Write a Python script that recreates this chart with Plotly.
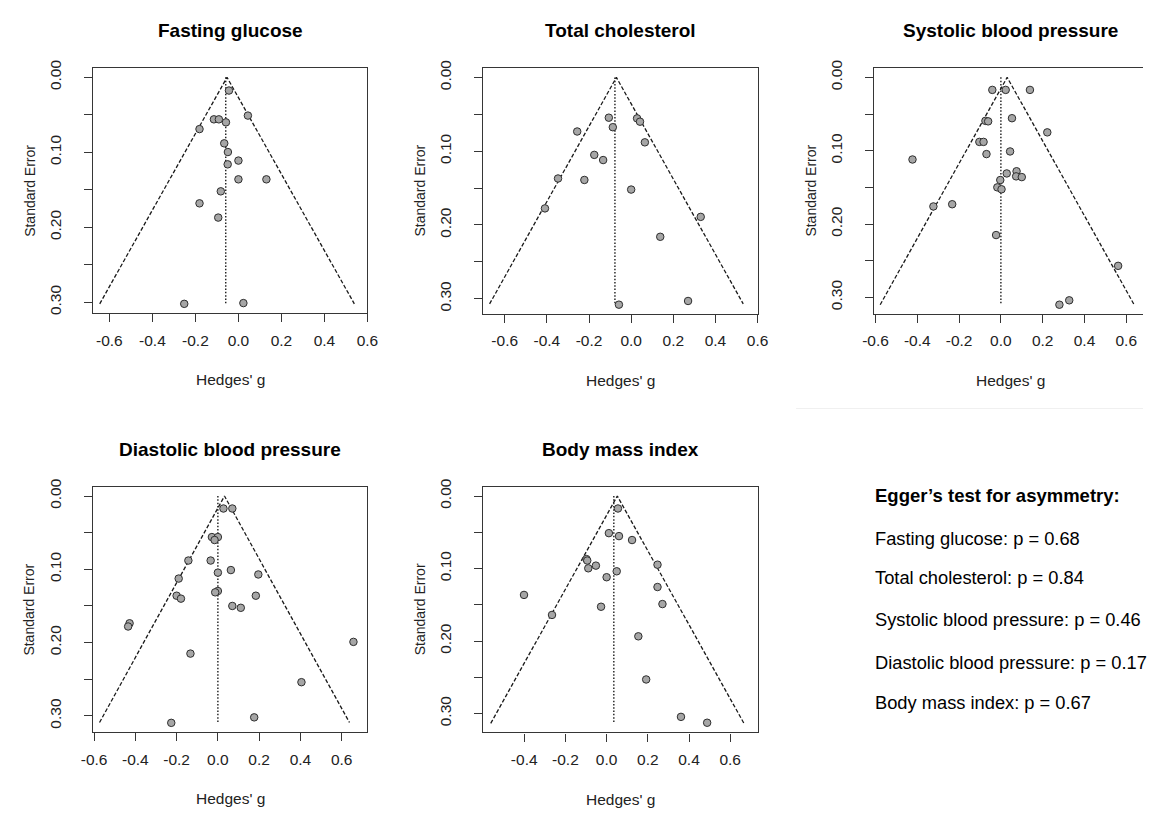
import plotly.graph_objects as go

# ---------------- data ----------------
titles = ["Fasting glucose", "Total cholesterol", "Systolic blood pressure",
          "Diastolic blood pressure", "Body mass index"]

fg_g = [-0.044, 0.044, -0.114, -0.091, -0.058, -0.181, -0.066, -0.049, 0.000, -0.050,
        0.000, 0.130, -0.082, -0.181, -0.094, -0.252, 0.023]
fg_se = [0.0176, 0.051, 0.056, 0.056, 0.060, 0.069, 0.088, 0.0996, 0.111, 0.116,
         0.136, 0.136, 0.152, 0.168, 0.187, 0.302, 0.301]

tc_g = [-0.106, -0.087, 0.028, 0.042, -0.256, 0.065, -0.175, -0.133, -0.347, -0.222,
        0.000, -0.409, 0.330, 0.138, 0.270, -0.058]
tc_se = [0.0546, 0.0675, 0.0555, 0.060, 0.0733, 0.088, 0.105, 0.112, 0.137, 0.139,
         0.152, 0.1775, 0.189, 0.216, 0.303, 0.308]

sbp_g = [-0.041, 0.023, 0.139, 0.053, -0.074, -0.061, 0.222, -0.103, -0.083, 0.044,
         -0.069, -0.423, 0.028, 0.075, 0.073, 0.100, -0.003, -0.017, 0.003, -0.323,
         -0.233, -0.023, 0.561, 0.280, 0.327]
sbp_se = [0.0171, 0.0171, 0.0171, 0.0557, 0.0593, 0.060, 0.075, 0.088, 0.088, 0.101,
          0.1046, 0.112, 0.131, 0.128, 0.135, 0.136, 0.140, 0.150, 0.1526, 0.176,
          0.173, 0.215, 0.257, 0.310, 0.304]

dbp_g = [0.027, 0.070, -0.029, 0.000, -0.016, -0.143, -0.035, 0.063, 0.000, 0.196,
         -0.190, 0.000, -0.013, -0.200, -0.179, 0.184, 0.070, 0.111, -0.428, -0.435,
         0.657, -0.133, 0.405, 0.176, -0.226]
dbp_se = [0.017, 0.017, 0.056, 0.056, 0.060, 0.088, 0.088, 0.101, 0.1045, 0.107,
          0.1126, 0.1296, 0.1314, 0.136, 0.140, 0.136, 0.150, 0.1525, 0.1736, 0.178,
          0.199, 0.215, 0.254, 0.302, 0.3095]

bmi_g = [0.055, 0.011, 0.060, 0.1235, -0.098, -0.094, -0.052, -0.089, 0.247, 0.049,
         0.000, 0.247, -0.401, 0.271, -0.027, -0.265, 0.154, 0.192, 0.361, 0.488]
bmi_se = [0.0172, 0.0512, 0.0553, 0.0607, 0.087, 0.089, 0.096, 0.0997, 0.0947, 0.1038,
          0.112, 0.1255, 0.1364, 0.149, 0.1527, 0.164, 0.1935, 0.253, 0.3046, 0.3127]

# pooled estimate (funnel apex), reference (dotted) line, max SE of funnel
pooled = [-0.053, -0.070, 0.030, 0.032, 0.052]
refline = [-0.059, -0.077, 0.000, 0.000, 0.035]
max_se = [0.302, 0.307, 0.310, 0.309, 0.3135]

egger_labels = ["Fasting glucose", "Total cholesterol", "Systolic blood pressure",
                "Diastolic blood pressure", "Body mass index"]
egger_p = ["0.68", "0.84", "0.46", "0.17", "0.67"]

x_tickvals = [-0.6, -0.4, -0.2, 0.0, 0.2, 0.4, 0.6]
x_ticktext = ["-0.6", "-0.4", "-0.2", "0.0", "0.2", "0.4", "0.6"]
y_tickvals = [0.0, 0.05, 0.10, 0.15, 0.20, 0.25, 0.30]
y_ticktext = ["0.00", "", "0.10", "", "0.20", "", "0.30"]

# ---------------- layout geometry (pixels) ----------------
W, H = 1154, 813
boxes = [  # left, right, top, bottom
    (82.7, 362.7, 60, 308),
    (481, 761, 60, 308.7),
    (880, 1154, 60, 308.7),
    (82.7, 362.7, 484.3, 732.7),
    (481, 761, 484.3, 733.3),
]
xranges = [(-0.676, 0.600), (-0.701, 0.601), (-0.605, 0.680), (-0.605, 0.725), (-0.598, 0.734)]
yranges = [(0.314, -0.0122), (0.320, -0.0125), (0.322, -0.0125), (0.3217, -0.0127), (0.326, -0.0128)]
title_cx = [222.7, 621, 1018.7, 222.7, 621]

FONT = "Liberation Sans, Arial, Helvetica, sans-serif"
LINEC = "#363636"
TXTC = "#222222"

all_g = [fg_g, tc_g, sbp_g, dbp_g, bmi_g]
all_se = [fg_se, tc_se, sbp_se, dbp_se, bmi_se]

fig = go.Figure()
layout = dict(width=W, height=H, margin=dict(l=0, r=0, t=0, b=0),
              paper_bgcolor="white", plot_bgcolor="white", showlegend=False)
annotations = []

for i in range(5):
    n = "" if i == 0 else str(i + 1)
    xa, ya = "x" + n, "y" + n
    L, R, T, B = boxes[i]
    c, s = pooled[i], max_se[i]
    # funnel (dashed)
    fig.add_trace(go.Scatter(x=[c - 1.96 * s, c, c + 1.96 * s], y=[s, 0, s],
                             mode="lines", line=dict(color="#1a1a1a", width=1.3, dash="4px,2px"),
                             xaxis=xa, yaxis=ya, hoverinfo="skip"))
    # reference line (dotted)
    fig.add_trace(go.Scatter(x=[refline[i], refline[i]], y=[0, s], mode="lines",
                             line=dict(color="#1a1a1a", width=1.4, dash="1.5px,1.8px"),
                             xaxis=xa, yaxis=ya, hoverinfo="skip"))
    # studies
    fig.add_trace(go.Scatter(x=all_g[i], y=all_se[i], mode="markers",
                             marker=dict(size=7.5, color="#a6a6a6",
                                         line=dict(color="#2e2e2e", width=1)),
                             xaxis=xa, yaxis=ya))
    common = dict(showline=True, linecolor=LINEC, linewidth=1.3, showgrid=False,
                  zeroline=False, ticks="outside", ticklen=8, tickwidth=1.3,
                  tickcolor=LINEC, tickfont=dict(family=FONT, size=15.5, color=TXTC))
    layout["xaxis" + n] = dict(domain=[L / W, R / W], range=list(xranges[i]), anchor=ya,
                               tickmode="array", tickvals=x_tickvals, ticktext=x_ticktext,
                               mirror=True, ticklabelstandoff=5, **common)
    layout["yaxis" + n] = dict(domain=[1 - B / H, 1 - T / H], range=list(yranges[i]), anchor=xa,
                               tickmode="array", tickvals=y_tickvals, ticktext=y_ticktext,
                               tickangle=-90, mirror=(i != 2), ticklabelstandoff=17, **common)
    # panel title
    annotations.append(dict(text="<b>" + titles[i] + "</b>", x=title_cx[i] / W, y=1 - (T - 38) / H,
                            xref="paper", yref="paper", showarrow=False,
                            xanchor="center", yanchor="middle",
                            font=dict(family=FONT, size=19, color="black")))
    # axis titles
    annotations.append(dict(text="Hedges' g", x=((L + R) / 2 if i != 2 else 1018.7) / W,
                            y=1 - (B + 68) / H, xref="paper", yref="paper", showarrow=False,
                            xanchor="center", yanchor="middle",
                            font=dict(family=FONT, size=15.5, color=TXTC)))
    annotations.append(dict(text="Standard Error", x=(L - 65) / W, y=1 - ((T + B) / 2) / H,
                            xref="paper", yref="paper", showarrow=False, textangle=-90,
                            xanchor="center", yanchor="middle",
                            font=dict(family=FONT, size=14, color=TXTC)))

# Egger's test text block
annotations.append(dict(text="<b>Egger\u2019s test for asymmetry:</b>", x=879 / W, y=1 - 492.7 / H,
                        xref="paper", yref="paper", showarrow=False, xanchor="left",
                        yanchor="middle", font=dict(family=FONT, size=18.5, color="black")))
egger_y = [536.7, 576.0, 619.3, 662.7, 703.3]
for lab, p, yy in zip(egger_labels, egger_p, egger_y):
    annotations.append(dict(text=f"{lab}: p = {p}", x=879 / W, y=1 - yy / H,
                            xref="paper", yref="paper", showarrow=False, xanchor="left",
                            yanchor="middle", font=dict(family=FONT, size=18.3, color="black")))

layout["annotations"] = annotations
layout["shapes"] = [dict(type="line", xref="paper", yref="paper", x0=800 / W, x1=1.0,
                         y0=1 - 405 / H, y1=1 - 405 / H, line=dict(color="#f0f0f0", width=1))]
fig.update_layout(**layout)
fig.write_html("out.html")
